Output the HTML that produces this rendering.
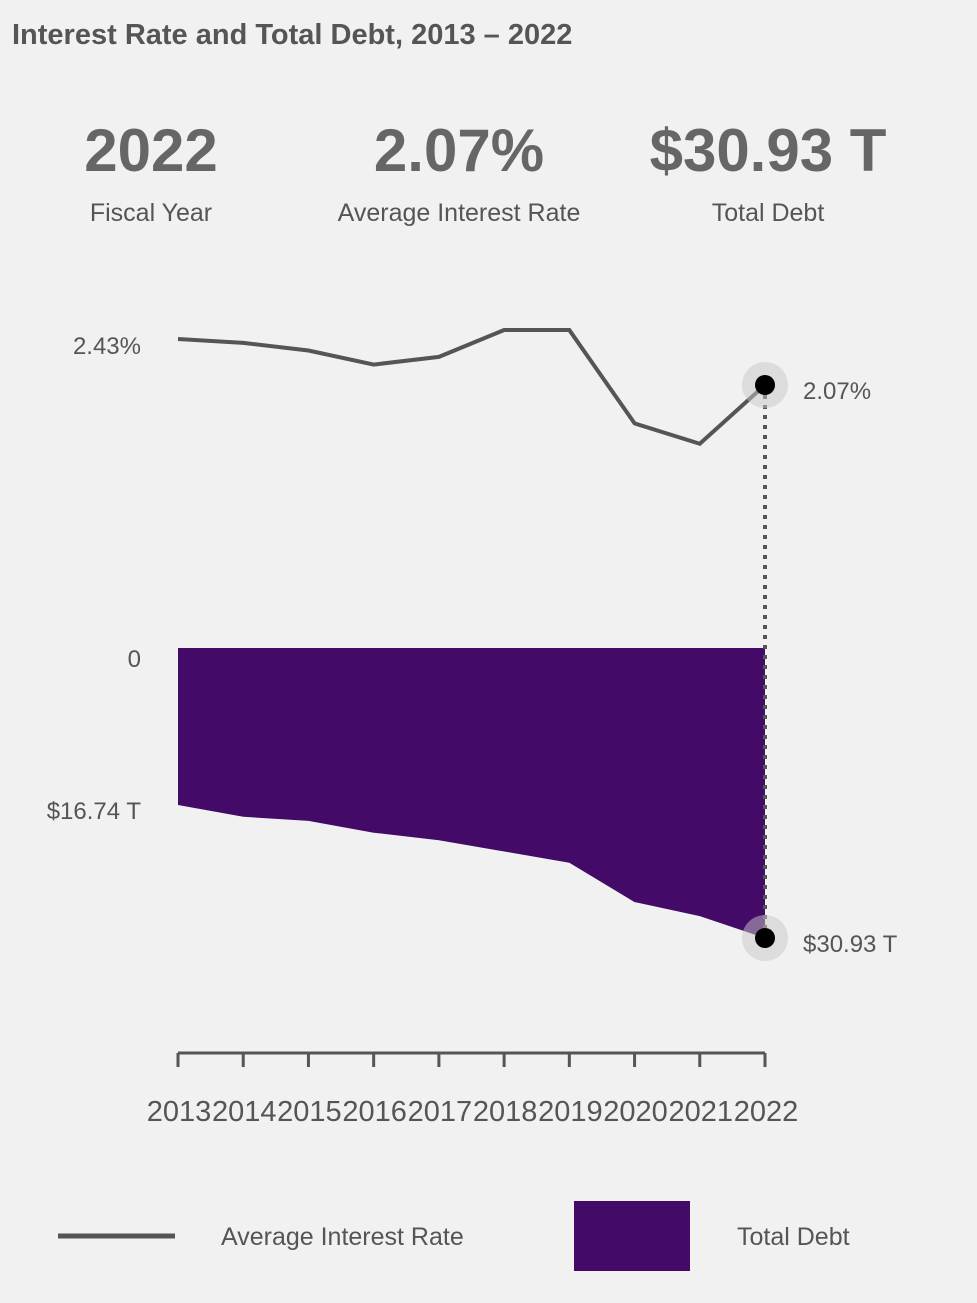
<!DOCTYPE html>
<html><head><meta charset="utf-8">
<style>
body{margin:0;background:#f1f1f1;width:977px;height:1303px;overflow:hidden;font-family:"Liberation Sans",sans-serif;color:#555}
svg{position:absolute;left:0;top:0}
</style></head>
<body>
<svg width="977" height="1303">
<text x="12" y="44" font-size="29" font-weight="bold" fill="#555">Interest Rate and Total Debt, 2013 – 2022</text>
<text x="151" y="171" font-size="60" font-weight="bold" fill="#666" text-anchor="middle">2022</text>
<text x="151" y="221" font-size="25" fill="#555" text-anchor="middle">Fiscal Year</text>
<text x="459" y="171" font-size="60" font-weight="bold" fill="#666" text-anchor="middle">2.07%</text>
<text x="459" y="221" font-size="25" fill="#555" text-anchor="middle">Average Interest Rate</text>
<text x="768" y="171" font-size="60" font-weight="bold" fill="#666" text-anchor="middle">$30.93 T</text>
<text x="768" y="221" font-size="25" fill="#555" text-anchor="middle">Total Debt</text>
<g id="plot"></g>
<line x1="58" y1="1236" x2="175" y2="1236" stroke="#555" stroke-width="5"/>
<text x="221" y="1245" font-size="25" fill="#555">Average Interest Rate</text>
<rect x="574" y="1201" width="116" height="70" fill="#440a68"/>
<text x="737" y="1245" font-size="25" fill="#555">Total Debt</text>
</svg>
<script>
const years=[2013,2014,2015,2016,2017,2018,2019,2020,2021,2022];
const rates=[2.43,2.40,2.34,2.23,2.29,2.50,2.50,1.77,1.61,2.07];
const debts=[16.74,18.0,18.44,19.7,20.5,21.7,22.9,27.1,28.6,30.93];
const NS="http://www.w3.org/2000/svg";
const g=document.getElementById('plot');
const x=i=>178+i*(765-178)/(years.length-1);
const yr=v=>339+(2.43-v)*127.8;
const yd=v=>648+v*(290/30.93);
function mk(t,a){const e=document.createElementNS(NS,t);for(const k in a)e.setAttribute(k,a[k]);g.appendChild(e);return e;}
let area='M'+x(0)+','+yd(0)+' L'+x(years.length-1)+','+yd(0);
for(let i=years.length-1;i>=0;i--)area+=' L'+x(i)+','+yd(debts[i]);
const ar=mk('path',{d:area+' Z',fill:'#440a68'});


const ln=mk('path',{d:rates.map((v,i)=>(i?'L':'M')+x(i)+','+yr(v)).join(' '),fill:'none',stroke:'#555','stroke-width':4});


const L=years.length-1;
const dl=mk('line',{x1:x(L),y1:yr(rates[L]),x2:x(L),y2:yd(debts[L]),stroke:'#555','stroke-width':4,'stroke-dasharray':'4 6'});


[[yr(rates[L]),'rate-marker'],[yd(debts[L]),'debt-marker']].forEach(([cy,n])=>{
 const h=mk('circle',{cx:x(L),cy:cy,r:23,fill:'rgba(200,200,200,0.5)'});
 
 
 const c=mk('circle',{cx:x(L),cy:cy,r:10,fill:'#000'});
 
 
});
function txt(s,xx,yy,anchor,n,size,fam){const t=mk('text',{x:xx,y:yy,'font-size':size||24,fill:'#555','text-anchor':anchor});if(fam)t.setAttribute('font-family',fam);t.textContent=s;return t;}
txt(rates[0].toFixed(2)+'%',141,yr(rates[0])+15,'end','rate-start-label');
txt(rates[L].toFixed(2)+'%',803,yr(rates[L])+14,'start','rate-end-label');
txt('0',141,yd(0)+19,'end','debt-zero-label');
txt('$'+debts[0].toFixed(2)+' T',141,yd(debts[0])+14,'end','debt-start-label');
txt('$'+debts[L].toFixed(2)+' T',803,yd(debts[L])+14,'start','debt-end-label');
const ax=mk('line',{x1:x(0),y1:1053,x2:x(L),y2:1053,stroke:'#555','stroke-width':3});


years.forEach((yv,i)=>{
 const tk=mk('line',{x1:x(i),y1:1053,x2:x(i),y2:1067,stroke:'#555','stroke-width':3});
 
 
 txt(String(yv),x(i)+1,1121,'middle','x-tick-label',29,'"Liberation Sans",Arial,sans-serif');
});
</script>
</body></html>
